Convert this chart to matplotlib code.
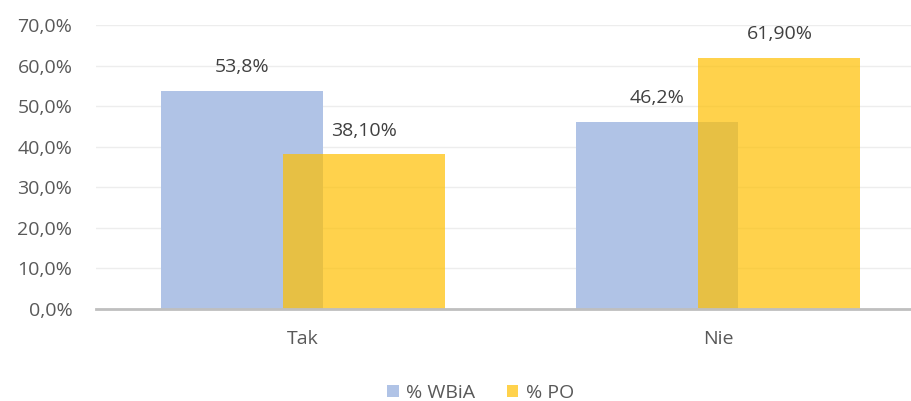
import matplotlib.pyplot as plt
import numpy as np
from matplotlib.ticker import FuncFormatter

# Data
categories = ['Tak', 'Nie']
wbia_values = [53.8, 46.2]
po_values = [38.1, 61.9]
wbia_labels = ['53,8%', '46,2%']
po_labels = ['38,10%', '61,90%']
series_names = ['% WBiA', '% PO']

plt.rcParams['font.family'] = ['Open Sans', 'DejaVu Sans']
text_color = '#595959'

fig = plt.figure(figsize=(9.12, 4.01), dpi=100)
ax = fig.add_axes([96 / 912, 1 - 309 / 401, 1 - 96 / 912, (309 - 25) / 401])

x = np.arange(len(categories))
width = 0.39
offset = 0.147

bars_wbia = ax.bar(x - offset, wbia_values, width, color='#B0C3E6', label=series_names[0], zorder=2)
bars_po = ax.bar(x + offset, po_values, width, color='#FFC000', alpha=0.7, label=series_names[1], zorder=3)

for bar, lab in zip(bars_wbia, wbia_labels):
    ax.annotate(lab, (bar.get_x() + bar.get_width() / 2, bar.get_height()),
                xytext=(0, 13.5), textcoords='offset points', ha='center', va='baseline',
                fontsize=14, color='#404040')
for bar, lab in zip(bars_po, po_labels):
    ax.annotate(lab, (bar.get_x() + bar.get_width() / 2, bar.get_height()),
                xytext=(0, 13.5), textcoords='offset points', ha='center', va='baseline',
                fontsize=14, color='#404040')

ax.set_xlim(-0.498, 1.466)
ax.set_ylim(0, 70)
ax.set_yticks(np.arange(0, 71, 10))
ax.yaxis.set_major_formatter(FuncFormatter(lambda v, p: f'{v:.1f}%'.replace('.', ',')))
ax.set_xticks(x)
ax.set_xticklabels(categories)
ax.tick_params(axis='both', length=0, labelsize=14, colors=text_color)
ax.tick_params(axis='y', pad=17)
ax.tick_params(axis='x', pad=15)

ax.grid(axis='y', color='#EDEDED', linewidth=1, zorder=0)
ax.set_axisbelow(True)
for s in ['top', 'right', 'left']:
    ax.spines[s].set_visible(False)
ax.spines['bottom'].set_color('#BFBFBF')
ax.spines['bottom'].set_linewidth(2)
ax.spines['bottom'].set_zorder(4)

leg = fig.legend(loc='lower center', bbox_to_anchor=(0.527, -0.045), ncol=2, frameon=False,
                 fontsize=14, handlelength=0.6, handleheight=0.6, handletextpad=0.4,
                 columnspacing=1.6)
for t in leg.get_texts():
    t.set_color(text_color)

fig.savefig('out.png', dpi=100)
